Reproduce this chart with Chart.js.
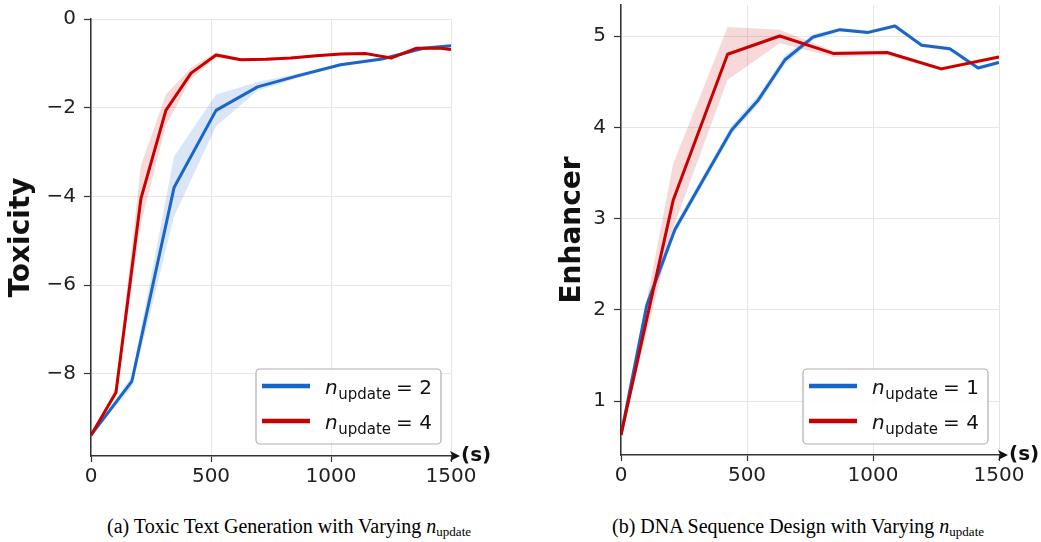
<!DOCTYPE html>
<html>
<head>
<meta charset="utf-8">
<script src="https://cdn.jsdelivr.net/npm/chart.js@4/dist/chart.umd.min.js"></script>
<style>
  html, body { margin: 0; padding: 0; background: #fff; }
  body { width: 1041px; height: 542px; position: relative; overflow: hidden; }
  canvas { position: absolute; }
  .cap { position: absolute; font-family: "Liberation Serif", serif; font-size: 20px; color: #000; white-space: nowrap; }
  .cap sub { font-size: 13px; vertical-align: -3px; }
</style>
</head>
<body>
<div id="w1" style="position:absolute;left:0;top:0;width:520px;height:500px;"><canvas id="c1"></canvas></div>
<div id="w2" style="position:absolute;left:530px;top:0;width:511px;height:500px;"><canvas id="c2"></canvas></div>
<div class="cap" style="left:107px;top:515px;">(a) Toxic Text Generation with Varying <i>n</i><sub>update</sub></div>
<div class="cap" style="left:612px;top:515px;">(b) DNA Sequence Design with Varying <i>n</i><sub>update</sub></div>
<script>
// ---------- (a) Toxic text generation ----------
const toxBlueX = [0, 170, 346, 521, 694, 868, 1040, 1213, 1385, 1500];
const toxBlueY = [-9.38, -8.17, -3.80, -2.06, -1.53, -1.27, -1.03, -0.90, -0.66, -0.60];
const toxBlueHi = [-9.38, -8.05, -3.10, -1.70, -1.42, -1.22, -1.00, -0.87, -0.63, -0.57];
const toxBlueLo = [-9.38, -8.30, -4.45, -2.42, -1.62, -1.32, -1.06, -0.93, -0.69, -0.63];

const toxRedX = [0, 104, 208, 312, 417, 521, 625, 729, 833, 938, 1042, 1146, 1250, 1354, 1458, 1500];
const toxRedY = [-9.38, -8.42, -4.05, -2.06, -1.22, -0.81, -0.92, -0.91, -0.88, -0.83, -0.79, -0.78, -0.88, -0.66, -0.66, -0.69];
const toxRedHi = [-9.38, -8.30, -3.30, -1.70, -1.10, -0.75, -0.89, -0.88, -0.85, -0.80, -0.76, -0.75, -0.85, -0.63, -0.63, -0.66];
const toxRedLo = [-9.38, -8.50, -4.60, -2.40, -1.35, -0.87, -0.95, -0.94, -0.91, -0.86, -0.82, -0.81, -0.91, -0.69, -0.69, -0.72];

const toxLegend = ["2", "4"];
const toxTicksY = [0, -2, -4, -6, -8];

// ---------- (b) DNA sequence design ----------
const dnaBlueX = [0, 102, 214, 325, 439, 545, 651, 763, 869, 981, 1087, 1193, 1305, 1417, 1500];
const dnaBlueY = [0.63, 2.05, 2.88, 3.42, 3.97, 4.30, 4.74, 4.99, 5.07, 5.04, 5.11, 4.90, 4.86, 4.65, 4.71];
const dnaBlueHi = [0.63, 2.12, 2.93, 3.47, 4.02, 4.35, 4.79, 5.02, 5.09, 5.06, 5.13, 4.92, 4.88, 4.67, 4.73];
const dnaBlueLo = [0.63, 1.98, 2.83, 3.37, 3.92, 4.25, 4.69, 4.96, 5.05, 5.02, 5.09, 4.88, 4.84, 4.63, 4.69];

const dnaRedX = [0, 207, 423, 630, 842, 1056, 1271, 1500];
const dnaRedY = [0.63, 3.20, 4.80, 5.00, 4.81, 4.82, 4.64, 4.77];
const dnaRedHi = [0.63, 3.60, 5.10, 5.07, 4.84, 4.84, 4.66, 4.79];
const dnaRedLo = [0.63, 2.90, 4.52, 4.92, 4.77, 4.79, 4.62, 4.75];

const dnaLegend = ["1", "4"];
const dnaTicksY = [1, 2, 3, 4, 5];

const xTicks = [0, 500, 1000, 1500];

const BLUE = '#1a66c8';
const RED = '#c80000';
const BLUE_BAND = 'rgba(26,102,200,0.16)';
const RED_BAND = 'rgba(200,0,0,0.15)';

function pts(xs, ys) { return xs.map((x, i) => ({ x: x, y: ys[i] })); }

function bandSets(xs, hi, lo, color) {
  return [
    { data: pts(xs, hi), borderWidth: 0, pointRadius: 0, backgroundColor: color, fill: '+1', tension: 0, order: 5 },
    { data: pts(xs, lo), borderWidth: 0, pointRadius: 0, backgroundColor: color, fill: false, tension: 0, order: 5 }
  ];
}
function lineSet(xs, ys, color, ord) {
  return { data: pts(xs, ys), borderColor: color, borderWidth: 3, pointRadius: 0, fill: false, tension: 0, order: ord, borderJoinStyle: 'round', borderCapStyle: 'butt' };
}

const decor = {
  id: 'decor',
  afterDraw(chart, args, opts) {
    const ctx = chart.ctx;
    const a = chart.chartArea;
    ctx.save();
    // x-axis arrow
    ctx.strokeStyle = '#222';
    ctx.fillStyle = '#111';
    ctx.lineWidth = 1.5;
    ctx.beginPath();
    ctx.moveTo(a.right, a.bottom);
    ctx.lineTo(a.right + 4, a.bottom);
    ctx.stroke();
    ctx.beginPath();
    ctx.moveTo(a.right + 9, a.bottom);
    ctx.lineTo(a.right - 1, a.bottom - 5);
    ctx.lineTo(a.right + 1.5, a.bottom);
    ctx.lineTo(a.right - 1, a.bottom + 5);
    ctx.closePath();
    ctx.fill();
    ctx.font = 'bold 20px "DejaVu Sans"';
    ctx.textBaseline = 'middle';
    ctx.textAlign = 'left';
    ctx.fillText('(s)', a.right + 10, a.bottom);

    // legend
    const w = 185, h = 75;
    const bx = a.right - opts.rightGap - w, by = a.bottom - opts.bottomGap - h;
    ctx.beginPath();
    ctx.roundRect(bx, by, w, h, 4);
    ctx.fillStyle = 'rgba(255,255,255,0.85)';
    ctx.fill();
    ctx.strokeStyle = '#b0b0b0';
    ctx.lineWidth = 1.2;
    ctx.stroke();
    const rows = [{ c: BLUE, v: opts.labels[0] }, { c: RED, v: opts.labels[1] }];
    rows.forEach((r, i) => {
      const ly = by + 17 + i * 35;
      ctx.strokeStyle = r.c;
      ctx.lineWidth = 4.5;
      ctx.lineCap = 'butt';
      ctx.beginPath();
      ctx.moveTo(bx + 6, ly);
      ctx.lineTo(bx + 54, ly);
      ctx.stroke();
      ctx.fillStyle = '#111';
      ctx.textBaseline = 'alphabetic';
      let tx = bx + 69;
      const base = ly + 8;
      ctx.font = 'italic 20px "DejaVu Sans"';
      ctx.fillText('n', tx, base);
      tx += ctx.measureText('n').width + 0.5;
      ctx.font = '15px "DejaVu Sans"';
      ctx.fillText('update', tx, base + 4.5);
      tx += ctx.measureText('update').width + 5;
      ctx.font = '20px "DejaVu Sans"';
      ctx.fillText('= ' + r.v, tx, base);
    });
    ctx.restore();
  }
};

function makeChart(id, datasets, ycfg, layoutPad, xHeight, legendOpts) {
  return new Chart(document.getElementById(id), {
    type: 'line',
    data: { datasets: datasets },
    plugins: [decor],
    options: {
      responsive: true,
      maintainAspectRatio: false,
      animation: false,
      layout: { padding: layoutPad },
      plugins: { legend: { display: false }, tooltip: { enabled: false }, decor: legendOpts },
      scales: {
        x: {
          type: 'linear', min: 0, max: 1500,
          afterFit(s) { s.height = xHeight; s.paddingLeft = 0; s.paddingRight = 0; },
          afterBuildTicks(s) { s.ticks = xTicks.map(v => ({ value: v })); },
          ticks: { font: { family: 'DejaVu Sans', size: 20 }, color: '#222', padding: 3, maxRotation: 0,
                   callback: v => String(v) },
          grid: { color: '#e6e6e6', lineWidth: 1, tickLength: 6, tickColor: '#333', tickWidth: 1.2 },
          border: { color: '#333', width: 1.5 }
        },
        y: {
          type: 'linear', min: ycfg.min, max: ycfg.max,
          afterFit(s) { s.width = 91; s.paddingTop = 0; s.paddingBottom = 0; },
          afterBuildTicks(s) { s.ticks = ycfg.ticks.map(v => ({ value: v })); },
          ticks: { font: { family: 'DejaVu Sans', size: 20 }, color: '#222', padding: 8,
                   callback: v => String(v).replace('-', '\u2212') },
          grid: { color: '#e6e6e6', lineWidth: 1, tickLength: 7, tickColor: '#333', tickWidth: 1.2 },
          border: { color: '#333', width: 1.5 },
          title: { display: true, text: ycfg.title, font: { family: 'DejaVu Sans', size: 28, weight: 'bold' }, color: '#111', padding: { top: ycfg.titlePad, bottom: 0 } }
        }
      }
    }
  });
}

makeChart('c1',
  [...bandSets(toxBlueX, toxBlueHi, toxBlueLo, BLUE_BAND), ...bandSets(toxRedX, toxRedHi, toxRedLo, RED_BAND),
   lineSet(toxBlueX, toxBlueY, BLUE, 2), lineSet(toxRedX, toxRedY, RED, 1)],
  { min: -9.85, max: 0, ticks: toxTicksY, title: 'Toxicity', titlePad: 5 },
  { top: 19, right: 69, left: 0, bottom: 0 }, 44,
  { labels: toxLegend, rightGap: 10, bottomGap: 12 });

makeChart('c2',
  [...bandSets(dnaBlueX, dnaBlueHi, dnaBlueLo, BLUE_BAND), ...bandSets(dnaRedX, dnaRedHi, dnaRedLo, RED_BAND),
   lineSet(dnaBlueX, dnaBlueY, BLUE, 2), lineSet(dnaRedX, dnaRedY, RED, 1)],
  { min: 0.41, max: 5.34, ticks: dnaTicksY, title: 'Enhancer', titlePad: 26 },
  { top: 5, right: 42, left: 0, bottom: 0 }, 45,
  { labels: dnaLegend, rightGap: 11, bottomGap: 11 });
</script>
</body>
</html>
